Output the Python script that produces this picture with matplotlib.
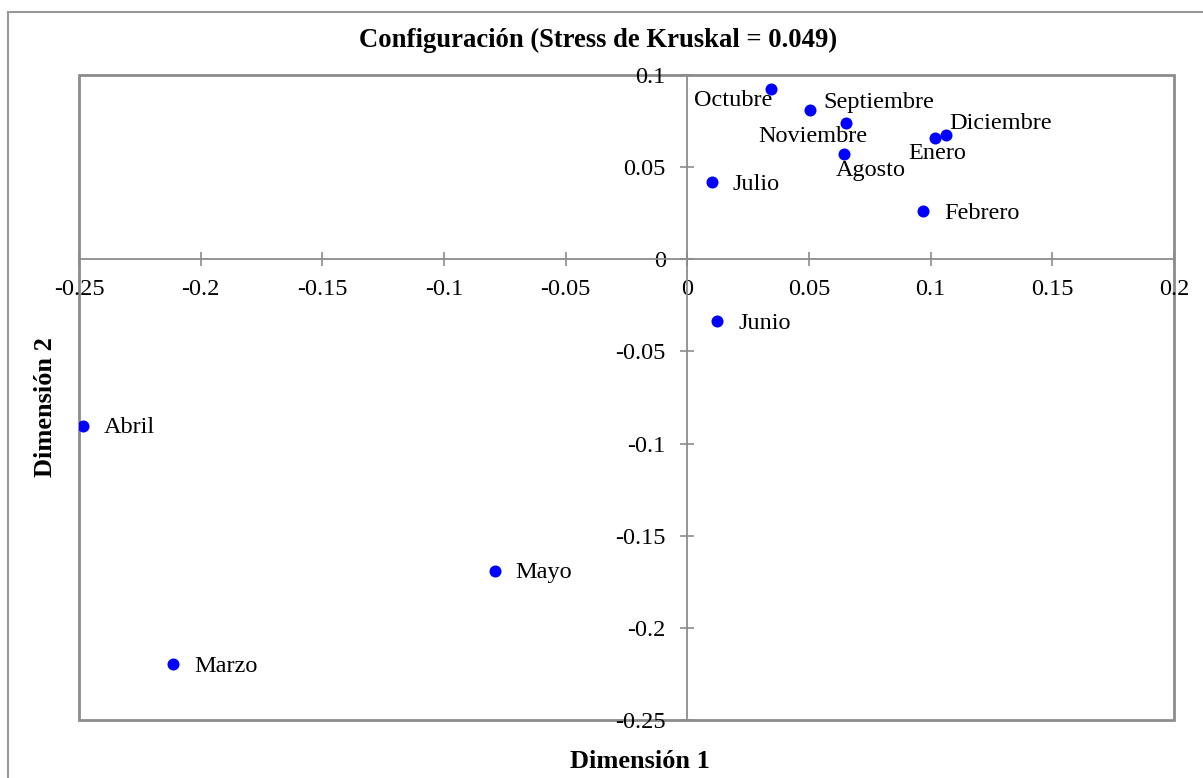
import matplotlib.pyplot as plt
from matplotlib.patches import Rectangle
import numpy as np

meses = ["Octubre", "Septiembre", "Noviembre", "Agosto", "Enero", "Diciembre",
         "Julio", "Febrero", "Junio", "Abril", "Mayo", "Marzo"]
dim1 = [0.0342, 0.0503, 0.0654, 0.0645, 0.1017, 0.1065,
        0.0102, 0.0970, 0.0123, -0.2482, -0.0792, -0.2113]
dim2 = [0.0926, 0.0810, 0.0738, 0.0570, 0.0660, 0.0673,
        0.0419, 0.0262, -0.0335, -0.0903, -0.1690, -0.2196]

xticks = [-0.25, -0.2, -0.15, -0.1, -0.05, 0, 0.05, 0.1, 0.15, 0.2]
yticks = [-0.25, -0.2, -0.15, -0.1, -0.05, 0, 0.05, 0.1]

# where each label sits relative to its point (points), and alignment
label_pos = {
    "Octubre": (1.5, -8.5, "right"),
    "Septiembre": (9.5, 5.5, "left"),
    "Noviembre": (-24.5, -9.5, "center"),
    "Diciembre": (2, 8.5, "left"),
    "Enero": (2, -11.5, "center"),
    "Agosto": (19, -11.5, "center"),
}

plt.rcParams["font.family"] = ["Liberation Serif", "DejaVu Serif"]
plt.rcParams["font.size"] = 17.5

fig = plt.figure(figsize=(12.03, 7.78), dpi=100)
W, H = 1203, 778
ax = fig.add_axes([79 / W, (H - 720) / H, (1174 - 79) / W, (720 - 75) / H])

gray = "#8c8c8c"

ax.scatter(dim1, dim2, s=75, color="#0000ff", zorder=3, linewidths=0)
for m, x, y in zip(meses, dim1, dim2):
    dx, dy, ha = label_pos.get(m, (15, -1.5, "left"))
    ax.annotate(m, (x, y), xytext=(dx, dy), textcoords="offset points",
                ha=ha, va="center", fontsize=17.5)

ax.set_xlim(-0.25, 0.2)
ax.set_ylim(-0.25, 0.1)
ax.set_xticks(xticks)
ax.set_yticks(yticks)
ax.set_xticklabels([("%g" % t) for t in xticks])
ax.set_yticklabels([("%g" % t) for t in yticks])

for s in ["top", "right"]:
    ax.spines[s].set_visible(False)
ax.spines["left"].set_position(("data", 0))
ax.spines["bottom"].set_position(("data", 0))
for s in ["left", "bottom"]:
    ax.spines[s].set_color(gray)
    ax.spines[s].set_linewidth(1.3)
ax.tick_params(direction="inout", length=10, width=1.2, color=gray)
ax.tick_params(axis="x", pad=9.5)
ax.tick_params(axis="y", pad=10.5)

# plot area frame
ax.add_patch(Rectangle((0, 0), 1, 1, transform=ax.transAxes, fill=False,
                       edgecolor=gray, linewidth=2, clip_on=False, zorder=1))

# outer chart frame
fig.patches.append(Rectangle((8 / W, -0.02), 1.05, 1 - 12 / H + 0.02,
                             transform=fig.transFigure, fill=False,
                             edgecolor="#999999", linewidth=1.5))

fig.text(598 / W, 1 - 40 / H, "Configuración (Stress de Kruskal = 0.049)",
         ha="center", va="center", fontsize=19.2, fontweight="bold")
fig.text(640 / W, 1 - 762 / H, "Dimensión 1", ha="center", va="center",
         fontsize=19, fontweight="bold")
fig.text(45 / W, 1 - 407 / H, "Dimensión 2", ha="center", va="center",
         rotation=90, fontsize=19, fontweight="bold")

fig.savefig("out.png", dpi=100)
